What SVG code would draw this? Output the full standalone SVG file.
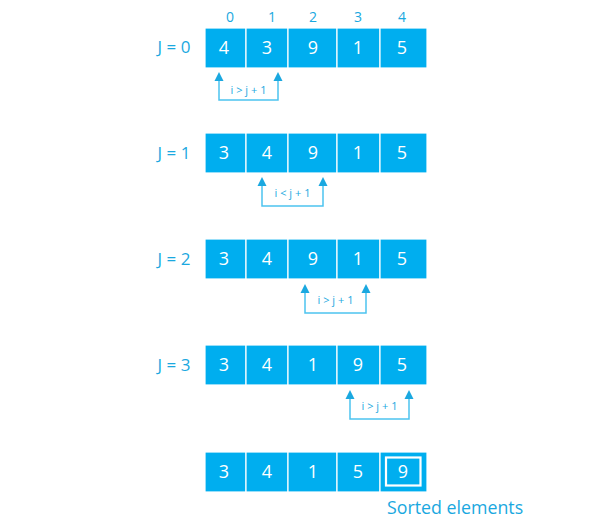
<svg xmlns="http://www.w3.org/2000/svg" width="596" height="526" viewBox="0 0 596 526">
<style>
.c{fill:#00aeef;stroke:#ffffff;stroke-width:1.2}
.n{font-family:"Open Sans","Liberation Sans",Arial,sans-serif;font-size:18px;fill:#ffffff;text-anchor:middle}
.j{font-family:"Open Sans","Liberation Sans",Arial,sans-serif;font-size:17px;fill:#1aa8e0;text-anchor:middle}
.ix{font-family:"Open Sans","Liberation Sans",Arial,sans-serif;font-size:14px;fill:#1aa8e0;text-anchor:middle}
.cl{font-family:"Open Sans","Liberation Sans",Arial,sans-serif;font-size:11px;fill:#1aa8e0;text-anchor:middle}
.ln{fill:none;stroke:#4cc3f0;stroke-width:1.5}
</style>
<defs>
<path id="ah" d="M0,0 L4.5,9 L-4.5,9 Z" fill="#1aa8e0"/>
</defs>
<g id="indices">
<text class="ix" x="230" y="22">0</text>
<text class="ix" x="272" y="22">1</text>
<text class="ix" x="313" y="22">2</text>
<text class="ix" x="358" y="22">3</text>
<text class="ix" x="402" y="22">4</text>
</g>
<g id="row0">
<text class="j" x="174" y="53">J = 0</text>
<rect class="c" x="205" y="28" width="41" height="40"/>
<rect class="c" x="246" y="28" width="42" height="40"/>
<rect class="c" x="288" y="28" width="49" height="40"/>
<rect class="c" x="337" y="28" width="43" height="40"/>
<rect class="c" x="380" y="28" width="47" height="40"/>
<text class="n" x="224" y="54">4</text>
<text class="n" x="267" y="54">3</text>
<text class="n" x="313" y="54">9</text>
<text class="n" x="358" y="54">1</text>
<text class="n" x="402" y="54">5</text>
</g>
<g id="row1">
<text class="j" x="174" y="159">J = 1</text>
<rect class="c" x="205" y="133" width="41" height="40"/>
<rect class="c" x="246" y="133" width="42" height="40"/>
<rect class="c" x="288" y="133" width="49" height="40"/>
<rect class="c" x="337" y="133" width="43" height="40"/>
<rect class="c" x="380" y="133" width="47" height="40"/>
<text class="n" x="224" y="159">3</text>
<text class="n" x="267" y="159">4</text>
<text class="n" x="313" y="159">9</text>
<text class="n" x="358" y="159">1</text>
<text class="n" x="402" y="159">5</text>
</g>
<g id="row2">
<text class="j" x="174" y="265">J = 2</text>
<rect class="c" x="205" y="239" width="41" height="40"/>
<rect class="c" x="246" y="239" width="42" height="40"/>
<rect class="c" x="288" y="239" width="49" height="40"/>
<rect class="c" x="337" y="239" width="43" height="40"/>
<rect class="c" x="380" y="239" width="47" height="40"/>
<text class="n" x="224" y="265">3</text>
<text class="n" x="267" y="265">4</text>
<text class="n" x="313" y="265">9</text>
<text class="n" x="358" y="265">1</text>
<text class="n" x="402" y="265">5</text>
</g>
<g id="row3">
<text class="j" x="174" y="371">J = 3</text>
<rect class="c" x="205" y="345" width="41" height="40"/>
<rect class="c" x="246" y="345" width="42" height="40"/>
<rect class="c" x="288" y="345" width="49" height="40"/>
<rect class="c" x="337" y="345" width="43" height="40"/>
<rect class="c" x="380" y="345" width="47" height="40"/>
<text class="n" x="224" y="371">3</text>
<text class="n" x="267" y="371">4</text>
<text class="n" x="313" y="371">1</text>
<text class="n" x="358" y="371">9</text>
<text class="n" x="402" y="371">5</text>
</g>
<g id="row4">
<rect class="c" x="205" y="452" width="41" height="40"/>
<rect class="c" x="246" y="452" width="42" height="40"/>
<rect class="c" x="288" y="452" width="49" height="40"/>
<rect class="c" x="337" y="452" width="43" height="40"/>
<rect class="c" x="380" y="452" width="47" height="40"/>
<rect x="386" y="457.5" width="34.5" height="28" fill="none" stroke="#ffffff" stroke-width="2.2"/>
<text class="n" x="224" y="478">3</text>
<text class="n" x="267" y="478">4</text>
<text class="n" x="313" y="478">1</text>
<text class="n" x="358" y="478">5</text>
<text class="n" x="403" y="478">9</text>
<text x="387" y="514" font-family="'Open Sans','Liberation Sans',Arial,sans-serif" font-size="17.8" fill="#1aa8e0">Sorted elements</text>
</g>
<g id="connectors">
<path class="ln" d="M219,80 V100 H278 V80"/>
<use href="#ah" x="219" y="72"/>
<use href="#ah" x="278" y="72"/>
<text class="cl" x="248.5" y="94">i &gt; j + 1</text>
<path class="ln" d="M262,184 V206 H323 V184"/>
<use href="#ah" x="262" y="177"/>
<use href="#ah" x="323" y="177"/>
<text class="cl" x="292.5" y="197">i &lt; j + 1</text>
<path class="ln" d="M305,291 V313 H366 V291"/>
<use href="#ah" x="305" y="284"/>
<use href="#ah" x="366" y="284"/>
<text class="cl" x="335.5" y="304">i &gt; j + 1</text>
<path class="ln" d="M350,397 V419 H409 V397"/>
<use href="#ah" x="350" y="390"/>
<use href="#ah" x="409" y="390"/>
<text class="cl" x="379.5" y="410">i &gt; j + 1</text>
</g>
</svg>
